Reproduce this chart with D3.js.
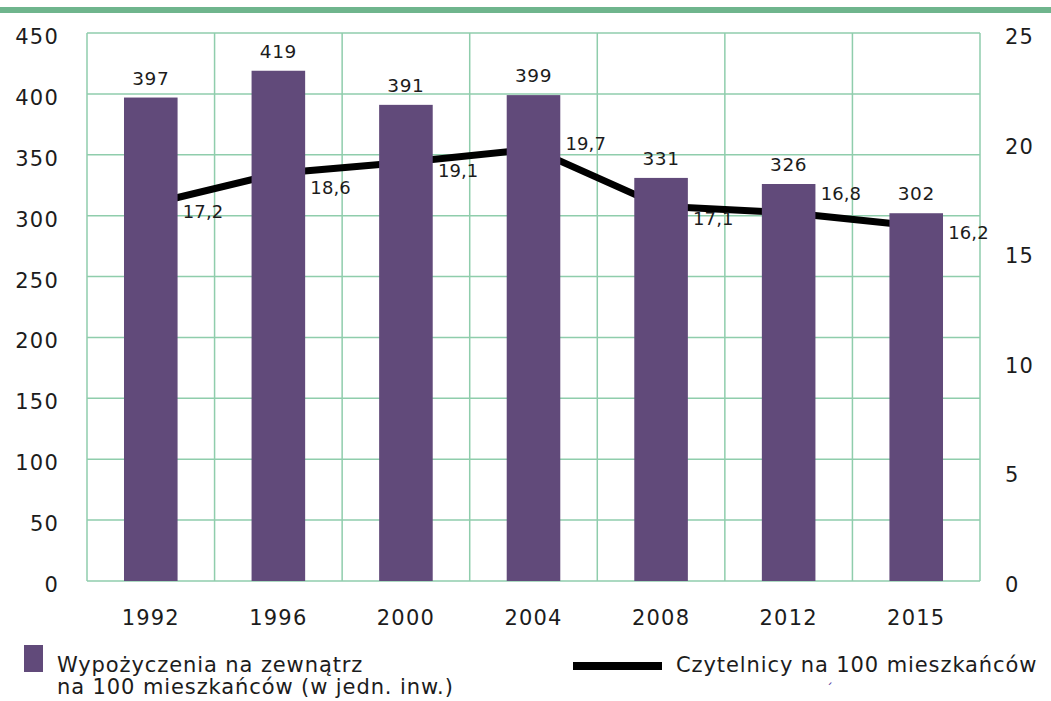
<!DOCTYPE html>
<html>
<head>
<meta charset="utf-8">
<script src="https://cdn.jsdelivr.net/npm/d3@7"></script>
<style>
  html, body { margin: 0; padding: 0; background: #fff; }
  svg { display: block; font-family: "DejaVu Sans", sans-serif; }
</style>
</head>
<body>
<svg id="chart" width="1051" height="701"></svg>
<script>
const categories = ["1992", "1996", "2000", "2004", "2008", "2012", "2015"];
const loans = [397, 419, 391, 399, 331, 326, 302];
const readers = [17.2, 18.6, 19.1, 19.7, 17.1, 16.8, 16.2];
const leftTicks = [0, 50, 100, 150, 200, 250, 300, 350, 400, 450];
const rightTicks = [0, 5, 10, 15, 20, 25];
const legendBars = ["Wypożyczenia na zewnątrz", "na 100 mieszkańców (w jedn. inw.)"];
const legendLine = "Czytelnicy na 100 mieszkańców";

const svg = d3.select("#chart");
const L = 87, R = 980, T = 33, B = 581;
const purple = "#614a7a", grid = "#8fcdac", green = "#6fb58d", ink = "#1c1c1c";

const x = d3.scaleBand().domain(categories).range([L, R]).padding(0);
const yL = d3.scaleLinear().domain([0, 450]).range([B, T]);
const yR = d3.scaleLinear().domain([0, 25]).range([B, T]);

// top green band
svg.append("rect").attr("x", 0).attr("y", 7).attr("width", 1051).attr("height", 6).attr("fill", green);

// gridlines
const g = svg.append("g");
g.selectAll("line.h").data(leftTicks).join("line")
  .attr("x1", L).attr("x2", R).attr("y1", d => yL(d)).attr("y2", d => yL(d))
  .attr("stroke", grid).attr("stroke-width", 1.5);
const vEdges = categories.map(c => x(c)).concat([R]);
g.selectAll("line.v").data(vEdges).join("line")
  .attr("x1", d => d).attr("x2", d => d).attr("y1", T).attr("y2", B)
  .attr("stroke", grid).attr("stroke-width", 1.5);

// axes
const axL = svg.append("g").attr("transform", `translate(${L},0)`)
  .call(d3.axisLeft(yL).tickValues(leftTicks).tickSize(0).tickPadding(28));
const axR = svg.append("g").attr("transform", `translate(${R},0)`)
  .call(d3.axisRight(yR).tickValues(rightTicks).tickSize(0).tickPadding(25));
const axX = svg.append("g").attr("transform", `translate(0,${B})`)
  .call(d3.axisBottom(x).tickSize(0).tickPadding(29));
[axL, axR, axX].forEach(a => {
  a.select(".domain").remove();
  a.selectAll("text").attr("font-family", "DejaVu Sans").attr("font-size", 21)
    .attr("fill", ink).attr("letter-spacing", 1.2);
});
axL.selectAll("text").attr("dy", "0.5em");
axR.selectAll("text").attr("dy", "0.5em");
axX.selectAll("text").attr("dy", "0.72em");

// line (behind bars)
const line = d3.line().x((d, i) => x(categories[i]) + x.bandwidth() / 2).y(d => yR(d));
svg.append("path").datum(readers).attr("d", line)
  .attr("fill", "none").attr("stroke", "#000").attr("stroke-width", 7).attr("stroke-linejoin", "round");

// bars
const bw = x.bandwidth() * 0.42;
svg.selectAll("rect.bar").data(loans).join("rect")
  .attr("x", (d, i) => x(categories[i]) + x.bandwidth() / 2 - bw / 2)
  .attr("y", d => yL(d)).attr("width", bw).attr("height", d => B - yL(d))
  .attr("fill", purple);

// bar labels
svg.selectAll("text.bl").data(loans).join("text")
  .attr("x", (d, i) => x(categories[i]) + x.bandwidth() / 2)
  .attr("y", d => yL(d) - 13)
  .attr("text-anchor", "middle").attr("font-size", 18.5).attr("fill", ink)
  .attr("letter-spacing", 0.6)
  .text(d => d);

// line labels
const lblDy = [14, 21, 15, 1, 19, -13, 13];
svg.selectAll("text.ll").data(readers).join("text")
  .attr("x", (d, i) => x(categories[i]) + x.bandwidth() / 2 + 32)
  .attr("y", (d, i) => yR(d) + lblDy[i])
  .attr("font-size", 18).attr("fill", ink).attr("letter-spacing", 0.1)
  .text(d => String(d).replace(".", ","));

// legend
svg.append("rect").attr("x", 24).attr("y", 645).attr("width", 19).attr("height", 27).attr("fill", purple);
svg.append("text").attr("x", 57).attr("y", 672).attr("font-size", 21).attr("fill", ink)
  .attr("letter-spacing", 0.9).text(legendBars[0]);
svg.append("text").attr("x", 57).attr("y", 694).attr("font-size", 21).attr("fill", ink)
  .attr("letter-spacing", 0.9).text(legendBars[1]);
svg.append("line").attr("x1", 573).attr("x2", 662).attr("y1", 666).attr("y2", 666)
  .attr("stroke", "#000").attr("stroke-width", 8);
svg.append("text").attr("x", 676).attr("y", 672).attr("font-size", 21).attr("fill", ink)
  .attr("letter-spacing", 0.9).text(legendLine);
svg.append("text").attr("x", 826).attr("y", 694).attr("font-size", 14).attr("fill", "#5b3fa0").text("´");
</script>
</body>
</html>
